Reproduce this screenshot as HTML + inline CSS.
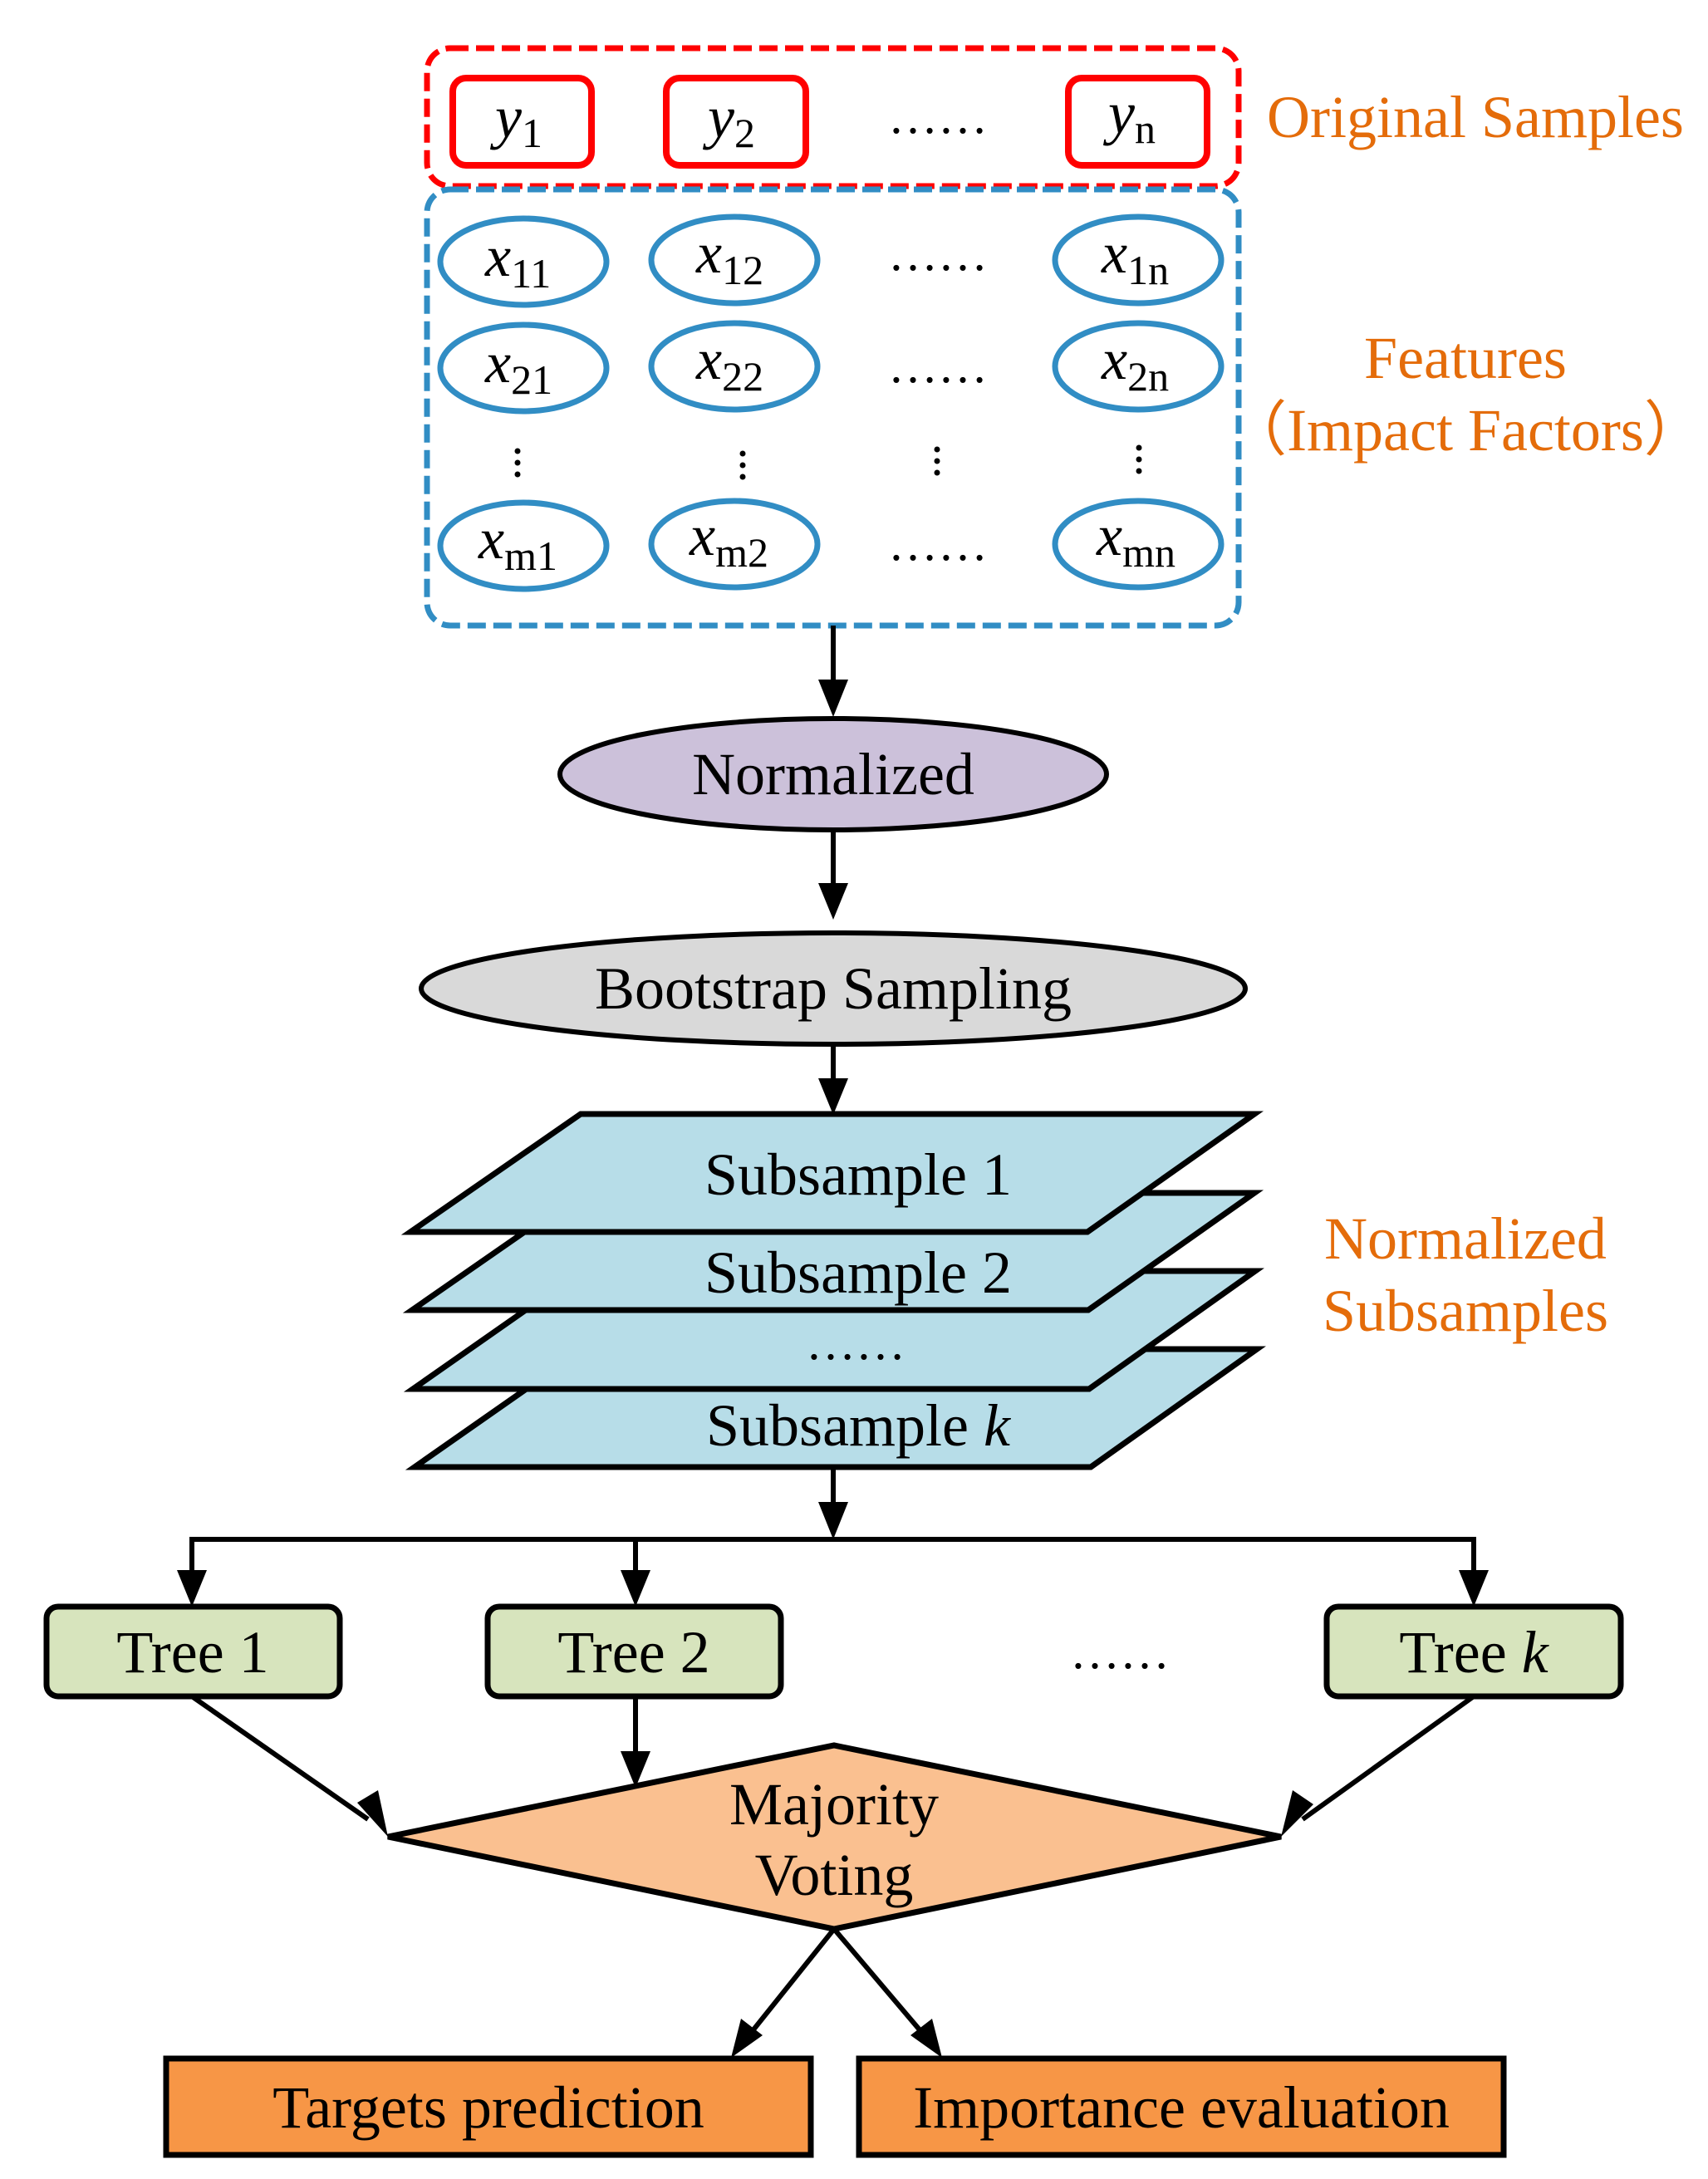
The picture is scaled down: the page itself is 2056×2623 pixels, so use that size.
<!DOCTYPE html>
<html><head><meta charset="utf-8"><style>
html,body{margin:0;padding:0;background:#fff;}
svg{display:block;}
text{font-family:"Liberation Serif",serif;}
</style></head><body>
<svg width="2056" height="2623" viewBox="0 0 2056 2623" xmlns="http://www.w3.org/2000/svg">
<!-- red dashed box -->
<rect x="514" y="58" width="977" height="166" rx="28" fill="none" stroke="#ff0000" stroke-width="7" stroke-dasharray="22,9"/>
<!-- blue dashed box -->
<rect x="514" y="228" width="977" height="525" rx="28" fill="none" stroke="#318dc4" stroke-width="7" stroke-dasharray="22,9"/>
<!-- y boxes -->
<g fill="none" stroke="#ff0000" stroke-width="8">
<rect x="545" y="94" width="167" height="105" rx="16"/>
<rect x="802" y="94" width="168" height="105" rx="16"/>
<rect x="1286" y="94" width="167" height="105" rx="16"/>
</g>
<g font-size="72" fill="#000">
<text x="596" y="165" font-style="italic">y<tspan font-style="normal" font-size="50" dy="12">1</tspan></text>
<text x="852" y="165" font-style="italic">y<tspan font-style="normal" font-size="50" dy="12">2</tspan></text>
<text x="1334" y="160" font-style="italic">y<tspan font-style="normal" font-size="50" dy="12">n</tspan></text>
</g>
<text x="1129" y="160" font-size="60" text-anchor="middle">……</text>
<text x="1525" y="165" font-size="72" fill="#e46c0a">Original Samples</text>
<!-- ellipses -->
<g fill="none" stroke="#318dc4" stroke-width="7">
<ellipse cx="630" cy="315" rx="100" ry="52"/>
<ellipse cx="884" cy="313" rx="100" ry="52"/>
<ellipse cx="1370" cy="313" rx="100" ry="52"/>
<ellipse cx="630" cy="443" rx="100" ry="52"/>
<ellipse cx="884" cy="441" rx="100" ry="52"/>
<ellipse cx="1370" cy="441" rx="100" ry="52"/>
<ellipse cx="630" cy="657" rx="100" ry="52"/>
<ellipse cx="884" cy="655" rx="100" ry="52"/>
<ellipse cx="1370" cy="655" rx="100" ry="52"/>
</g>
<g font-size="70" fill="#000">
<text x="584" y="332" font-style="italic">x<tspan font-style="normal" font-size="50" dy="14">11</tspan></text>
<text x="838" y="328" font-style="italic">x<tspan font-style="normal" font-size="50" dy="14">12</tspan></text>
<text x="1326" y="328" font-style="italic">x<tspan font-style="normal" font-size="50" dy="14">1n</tspan></text>
<text x="584" y="460" font-style="italic">x<tspan font-style="normal" font-size="50" dy="14">21</tspan></text>
<text x="838" y="456" font-style="italic">x<tspan font-style="normal" font-size="50" dy="14">22</tspan></text>
<text x="1326" y="456" font-style="italic">x<tspan font-style="normal" font-size="50" dy="14">2n</tspan></text>
<text x="576" y="672" font-style="italic">x<tspan font-style="normal" font-size="50" dy="14">m1</tspan></text>
<text x="830" y="668" font-style="italic">x<tspan font-style="normal" font-size="50" dy="14">m2</tspan></text>
<text x="1320" y="668" font-style="italic">x<tspan font-style="normal" font-size="50" dy="14">mn</tspan></text>
</g>
<g font-size="60" text-anchor="middle" fill="#000">
<text x="1129" y="325">……</text>
<text x="1129" y="460">……</text>
<text x="1129" y="674">……</text>
</g>
<g fill="#000">
<circle cx="623" cy="543" r="3.5"/><circle cx="623" cy="557" r="3.5"/><circle cx="623" cy="571" r="3.5"/>
<circle cx="894" cy="546" r="3.5"/><circle cx="894" cy="560" r="3.5"/><circle cx="894" cy="574" r="3.5"/>
<circle cx="1128" cy="541" r="3.5"/><circle cx="1128" cy="555" r="3.5"/><circle cx="1128" cy="569" r="3.5"/>
<circle cx="1371" cy="539" r="3.5"/><circle cx="1371" cy="553" r="3.5"/><circle cx="1371" cy="567" r="3.5"/>
</g>
<text x="1764" y="455" font-size="72" fill="#e46c0a" text-anchor="middle">Features</text>
<text x="1764" y="542" font-size="72" fill="#e46c0a" text-anchor="middle">（Impact Factors）</text>

<g stroke="#000" stroke-width="6" fill="none">
<line x1="1003" y1="753" x2="1003" y2="825"/>
<line x1="1003" y1="1000" x2="1003" y2="1070"/>
<line x1="1003" y1="1257" x2="1003" y2="1305"/>
<line x1="1003" y1="1766" x2="1003" y2="1815"/>
<polyline points="231,1898 231,1853 1774,1853 1774,1898"/>
<line x1="765" y1="1853" x2="765" y2="1898"/>
<line x1="765" y1="2042" x2="765" y2="2115"/>
<line x1="231" y1="2042" x2="443" y2="2190"/>
<line x1="1774" y1="2042" x2="1568" y2="2190"/>
<line x1="1004" y1="2322" x2="904" y2="2447"/>
<line x1="1004" y1="2322" x2="1110" y2="2447"/>
</g>
<g fill="#000">
<polygon points="985,818 1021,818 1003,863"/>
<polygon points="985,1063 1021,1063 1003,1107"/>
<polygon points="985,1298 1021,1298 1003,1342"/>
<polygon points="985,1808 1021,1808 1003,1853"/>
<polygon points="213,1890 249,1890 231,1934"/>
<polygon points="747,1890 783,1890 765,1934"/>
<polygon points="1756,1890 1792,1890 1774,1934"/>
<polygon points="747,2108 783,2108 765,2152"/>
<polygon points="430,2170 455,2155 467,2211"/>
<polygon points="1556,2155 1581,2172 1542,2211"/>
<polygon points="892,2430 918,2450 880,2477"/>
<polygon points="1096,2450 1122,2430 1134,2477"/>
</g>

<ellipse cx="1003" cy="932" rx="329" ry="67" fill="#ccc1da" stroke="#000" stroke-width="6"/>
<text x="1003" y="956" font-size="72" text-anchor="middle">Normalized</text>
<ellipse cx="1003" cy="1190" rx="496" ry="67" fill="#d9d9d9" stroke="#000" stroke-width="6"/>
<text x="1003" y="1214" font-size="72" text-anchor="middle">Bootstrap Sampling</text>

<g fill="#b7dde8" stroke="#000" stroke-width="7" stroke-linejoin="miter">
<polygon points="702,1624 1513,1624 1313,1766 499,1766"/>
<polygon points="700,1530 1511,1530 1311,1672 497,1672"/>
<polygon points="699,1436 1510,1436 1310,1577 496,1577"/>
<polygon points="699,1341 1510,1341 1309,1483 494,1483"/>
</g>
<g font-size="72" text-anchor="middle" fill="#000">
<text x="1033" y="1438">Subsample 1</text>
<text x="1033" y="1556">Subsample 2</text>
<text x="1030" y="1636" font-size="60">……</text>
<text x="1033" y="1740">Subsample <tspan font-style="italic">k</tspan></text>
</g>
<text x="1764" y="1515" font-size="72" fill="#e46c0a" text-anchor="middle">Normalized</text>
<text x="1764" y="1602" font-size="72" fill="#e46c0a" text-anchor="middle">Subsamples</text>

<g fill="#d7e4bd" stroke="#000" stroke-width="7">
<rect x="56" y="1934" width="353" height="108" rx="14"/>
<rect x="587" y="1934" width="353" height="108" rx="14"/>
<rect x="1597" y="1934" width="354" height="108" rx="14"/>
</g>
<g font-size="72" text-anchor="middle" fill="#000">
<text x="232" y="2013">Tree 1</text>
<text x="763" y="2013">Tree 2</text>
<text x="1774" y="2013">Tree <tspan font-style="italic">k</tspan></text>
<text x="1348" y="2008" font-size="60">……</text>
</g>

<polygon points="467,2211 1004,2101 1542,2211 1004,2322" fill="#fac090" stroke="#000" stroke-width="7"/>
<g font-size="72" text-anchor="middle" fill="#000">
<text x="1004" y="2196">Majority</text>
<text x="1004" y="2281">Voting</text>
</g>

<g fill="#f79646" stroke="#000" stroke-width="7">
<rect x="200" y="2478" width="776" height="116"/>
<rect x="1034" y="2478" width="776" height="116"/>
</g>
<g font-size="72" text-anchor="middle" fill="#000">
<text x="588" y="2561">Targets prediction</text>
<text x="1422" y="2561">Importance evaluation</text>
</g>
</svg>
</body></html>
